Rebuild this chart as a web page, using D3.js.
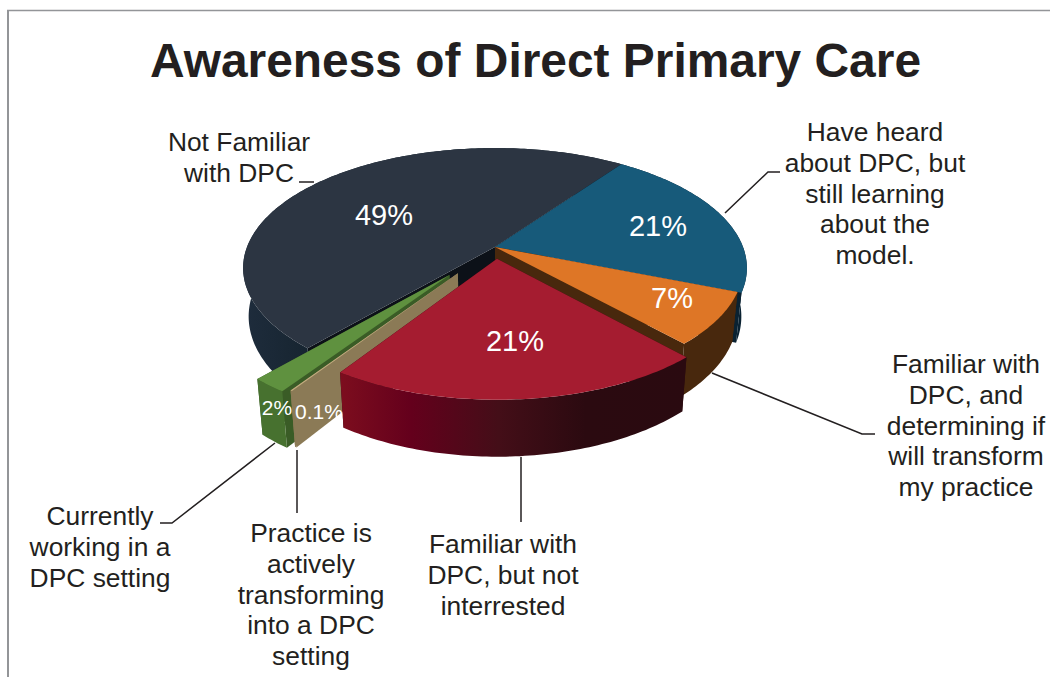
<!DOCTYPE html>
<html>
<head>
<meta charset="utf-8">
<script src="https://cdn.jsdelivr.net/npm/d3@7"></script>
<style>
	html, body { margin: 0; padding: 0; background: #fff; }
	svg { display: block; }
	text { font-family: "Liberation Sans", Arial, sans-serif; }
</style>
</head>
<body>
<figure id="pie" style="margin:0"></figure>
<script>
// values, clockwise from the blue slice
var sliceNames = [ "learning", "determining", "notInterested", "transforming", "working", "notFamiliar" ];
var sliceValues = [ 21.1, 7.2, 21.1, 0.1, 2.0, 48.5 ];
var percentLabels = [ "21%", "7%", "21%", "0.1%", "2%", "49%" ];
var titleText = "Awareness of Direct Primary Care";
var calloutLabels = [
	[ "Have heard", "about DPC, but", "still learning", "about the", "model." ],
	[ "Familiar with", "DPC, and", "determining if", "will transform", "my practice" ],
	[ "Familiar with", "DPC, but not", "interrested" ],
	[ "Practice is", "actively", "transforming", "into a DPC", "setting" ],
	[ "Currently", "working in a", "DPC setting" ],
	[ "Not Familiar", "with DPC" ]
];

var dimensions = { width: 1050, height: 677 };

// how the flat pie lands on the page
var pie3d = {
	startDeg: 35.6,
	centerX: 495,
	centerY: 247,
	radiusX: 248,
	radiusY: 116.3,
	perspective: -0.175,
	dropBase: 50,
	dropSlope: 0.065,
	dropInset: 0.022
};

// exploded slices sit further out but their radius shrinks a little
var sliceStyles = {
	learning: { top: "#175a7a", rim: "#0a2232", wall: "#0a2232", explode: 0, radius: 1 },
	determining: { top: "#de7626", rim: "#48280d", wall: "#48280d", explode: 0, radius: 0.985 },
	notInterested: { top: "#a51c30", rim: "url(#redRim)", wall: "#2a0a10", explode: 0.1, radius: 0.968 },
	transforming: { top: "#c4ae80", rim: "#8b7a56", wall: "#8b7a56", explode: 0.26, radius: 0.96 },
	working: { top: "#5f913f", rim: "#47712f", wall: "#3a5c26", explode: 0.29, radius: 0.95 },
	notFamiliar: { top: "#2c3542", rim: "url(#darkRim)", wall: "#0c1118", explode: 0, radius: 1 }
};

// back to front
var drawOrder = [ "notFamiliar", "learning", "determining", "working", "transforming", "notInterested" ];

var percentSpots = {
	learning: [ 658, 226, 29 ],
	determining: [ 672, 298, 29 ],
	notInterested: [ 515, 341, 29 ],
	transforming: [ 319, 412, 21 ],
	working: [ 277, 408, 21 ],
	notFamiliar: [ 384, 215, 29 ]
};

var calloutSpots = {
	learning: { x: 875, y: 141 },
	determining: { x: 966, y: 373 },
	notInterested: { x: 503, y: 553 },
	transforming: { x: 311, y: 542 },
	working: { x: 100, y: 525 },
	notFamiliar: { x: 239, y: 151 }
};

var leaderLines = [
	[ [ 725, 213 ], [ 768, 172 ], [ 780, 172 ] ],
	[ [ 712, 373 ], [ 862, 434 ], [ 875, 434 ] ],
	[ [ 521, 457 ], [ 521, 522 ] ],
	[ [ 297, 450 ], [ 297, 513 ] ],
	[ [ 275, 443 ], [ 172, 523 ], [ 160, 523 ] ],
	[ [ 299, 182 ], [ 314, 182 ] ]
];

var svg = d3.select( "figure#pie" )
	.append( "svg" )
	.attr( "width", dimensions.width )
	.attr( "height", dimensions.height );

svg.append( "rect" )
	.attr( "width", dimensions.width )
	.attr( "height", dimensions.height )
	.attr( "fill", "#fff" );

// grey frame, only top and left show
svg.append( "path" )
	.attr( "d", "M1050,10.5H7" )
	.attr( "stroke", "#939598" )
	.attr( "stroke-width", 1.3 );
svg.append( "path" )
	.attr( "d", "M8,10V677" )
	.attr( "stroke", "#939598" )
	.attr( "stroke-width", 2 );

// rim shading
var defs = svg.append( "defs" );
function rimGradient( id, x1, x2, stops ) {
	var g = defs.append( "linearGradient" )
		.attr( "id", id )
		.attr( "gradientUnits", "userSpaceOnUse" )
		.attr( "x1", x1 ).attr( "x2", x2 )
		.attr( "y1", 0 ).attr( "y2", 0 );
	stops.forEach( function( s ) {
		g.append( "stop" ).attr( "offset", s[ 0 ] ).attr( "stop-color", s[ 1 ] );
	} );
}
rimGradient( "redRim", 342, 690, [ [ 0, "#7c0d1e" ], [ 0.2, "#64001c" ], [ 0.45, "#440e18" ], [ 0.7, "#2b0a10" ], [ 1, "#2a0a10" ] ] );
rimGradient( "darkRim", 245, 320, [ [ 0, "#1e2c3c" ], [ 1, "#15232e" ] ] );

// plane coordinates to pixels, before the perspective divide
var xScale = d3.scaleLinear().domain( [ -1, 1 ] ).range( [ -pie3d.radiusX, pie3d.radiusX ] );
var yScale = d3.scaleLinear().domain( [ -1, 1 ] ).range( [ -pie3d.radiusY, pie3d.radiusY ] );

// angle 0 is north, clockwise, radius 1 is the rim
function project( angle, radius, offset ) {
	var x = Math.sin( angle ) * radius + offset.x;
	var y = -Math.cos( angle ) * radius + offset.y;
	var w = 1 + pie3d.perspective * y;
	return [ pie3d.centerX + xScale( x ) / w, pie3d.centerY + yScale( y ) / w ];
}

// same point on the underside of the pie
function dropped( p ) {
	return [
		p[ 0 ] - ( p[ 0 ] - pie3d.centerX ) * pie3d.dropInset,
		p[ 1 ] + pie3d.dropBase + ( p[ 1 ] - 292 ) * pie3d.dropSlope
	];
}

var pie = d3.pie()
	.sort( null )
	.startAngle( pie3d.startDeg * Math.PI / 180 )
	.endAngle( ( pie3d.startDeg + 360 ) * Math.PI / 180 );

var arcs = pie( sliceValues );
var line = d3.line();

var slices = sliceNames.map( function( name, i ) {
	var style = sliceStyles[ name ];
	var mid = ( arcs[ i ].startAngle + arcs[ i ].endAngle ) / 2;
	var offset = { x: Math.sin( mid ) * style.explode, y: -Math.cos( mid ) * style.explode };
	var steps = Math.max( 2, Math.ceil( ( arcs[ i ].endAngle - arcs[ i ].startAngle ) * 60 ) );
	var rim = d3.range( steps + 1 ).map( function( k ) {
		return project( arcs[ i ].startAngle + ( arcs[ i ].endAngle - arcs[ i ].startAngle ) * k / steps, style.radius, offset );
	} );
	return {
		name: name,
		style: style,
		apex: project( 0, 0, offset ),
		rim: rim
	};
} );

var pieGroup = svg.append( "g" ).attr( "class", "slices" );

drawOrder.forEach( function( name ) {
	var s = slices.find( function( d ) { return d.name === name; } );
	var first = s.rim[ 0 ];
	var last = s.rim[ s.rim.length - 1 ];

	// the two straight cut walls
	[ first, last ].forEach( function( edge ) {
		pieGroup.append( "path" )
			.attr( "d", line( [ s.apex, edge, dropped( edge ), dropped( s.apex ) ] ) + "Z" )
			.attr( "fill", s.style.wall );
	} );

	// curved outside wall
	pieGroup.append( "path" )
		.attr( "d", line( s.rim.concat( s.rim.map( dropped ).reverse() ) ) + "Z" )
		.attr( "fill", s.style.rim );

	// top face
	pieGroup.append( "path" )
		.attr( "d", line( [ s.apex ].concat( s.rim ) ) + "Z" )
		.attr( "fill", s.style.top );
} );

svg.append( "g" ).attr( "class", "leaders" )
	.selectAll( "path" )
	.data( leaderLines )
	.enter()
	.append( "path" )
	.attr( "d", function( d ) { return line( d ); } )
	.attr( "fill", "none" )
	.attr( "stroke", "#231f20" )
	.attr( "stroke-width", 1.5 );

svg.append( "text" )
	.attr( "x", 535.5 )
	.attr( "y", 77 )
	.attr( "text-anchor", "middle" )
	.attr( "font-weight", "bold" )
	.attr( "font-size", 47.9 )
	.attr( "fill", "#231f20" )
	.text( titleText );

// percent labels inside the slices
svg.append( "g" ).attr( "class", "percents" )
	.selectAll( "text" )
	.data( sliceNames )
	.enter()
	.append( "text" )
	.attr( "x", function( d ) { return percentSpots[ d ][ 0 ]; } )
	.attr( "y", function( d ) { return percentSpots[ d ][ 1 ]; } )
	.attr( "dy", "0.35em" )
	.attr( "text-anchor", "middle" )
	.attr( "font-size", function( d ) { return percentSpots[ d ][ 2 ]; } )
	.attr( "fill", "#fff" )
	.text( function( d, i ) { return percentLabels[ i ]; } );

// callout text, one text per line
var calloutGroup = svg.append( "g" ).attr( "class", "callouts" );
sliceNames.forEach( function( name, i ) {
	var spot = calloutSpots[ name ];
	calloutGroup.selectAll( null )
		.data( calloutLabels[ i ] )
		.enter()
		.append( "text" )
		.attr( "x", spot.x )
		.attr( "y", function( d, k ) { return spot.y + k * 30.8; } )
		.attr( "text-anchor", "middle" )
		.attr( "font-size", 26.4 )
		.attr( "fill", "#231f20" )
		.text( function( d ) { return d; } );
} );
</script>
</body>
</html>
